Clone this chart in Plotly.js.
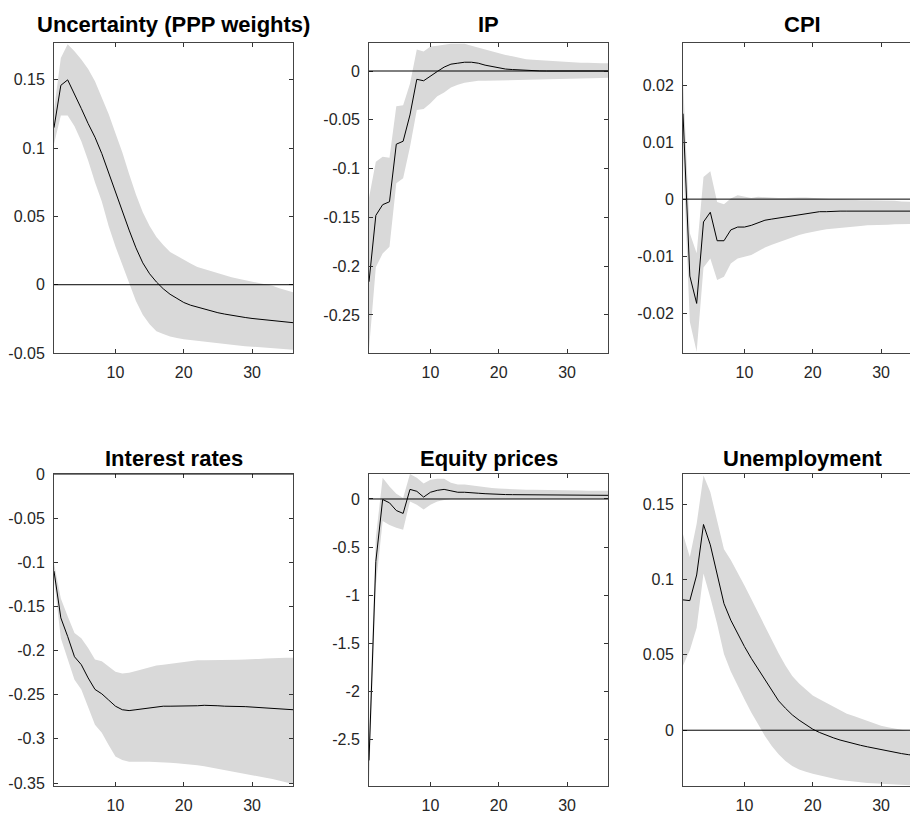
<!DOCTYPE html>
<html>
<head>
<meta charset="utf-8">
<script src="https://cdn.plot.ly/plotly-3.0.1.min.js"></script>
<style>
html, body { margin: 0; padding: 0; overflow: hidden; background: #fff; }
#chart { width: 940px; height: 814px; }
</style>
</head>
<body>
<div id="chart"></div>
<script>
const horizons = [1,2,3,4,5,6,7,8,9,10,11,12,13,14,15,16,17,18,19,20,21,22,23,24,25,26,27,28,29,30,31,32,33,34,35,36];

const panelTitles = ["Uncertainty (PPP weights)", "IP", "CPI", "Interest rates", "Equity prices", "Unemployment"];

// Uncertainty (PPP weights)
const uncMean = [0.115,0.146,0.150,0.140,0.129,0.118,0.108,0.096,0.082,0.067,0.054,0.040,0.027,0.016,0.008,0.002,-0.003,-0.007,-0.010,-0.013,-0.015,-0.0165,-0.018,-0.019,-0.0205,-0.0215,-0.0225,-0.0233,-0.024,-0.0247,-0.0253,-0.0258,-0.0263,-0.0268,-0.0273,-0.0278];
const uncHigh = [0.128,0.166,0.176,0.171,0.165,0.158,0.149,0.137,0.125,0.111,0.097,0.081,0.066,0.053,0.043,0.035,0.029,0.024,0.021,0.018,0.0155,0.013,0.0115,0.010,0.008,0.0068,0.0055,0.0043,0.0032,0.0022,0.0012,0.0002,-0.0008,-0.0025,-0.004,-0.0055];
const uncLow  = [0.103,0.124,0.124,0.116,0.105,0.091,0.075,0.061,0.043,0.028,0.014,0.001,-0.012,-0.022,-0.029,-0.034,-0.036,-0.038,-0.039,-0.040,-0.041,-0.0415,-0.042,-0.0425,-0.043,-0.0435,-0.044,-0.0445,-0.045,-0.0455,-0.046,-0.0463,-0.0466,-0.047,-0.0473,-0.0476];

// IP
const ipMean = [-0.216,-0.148,-0.137,-0.134,-0.075,-0.072,-0.045,-0.0085,-0.010,-0.005,-0.0005,0.004,0.007,0.008,0.009,0.009,0.008,0.006,0.0045,0.003,0.002,0.0015,0.001,0.0005,0.0002,0.0001,0,0,0,0,0,0,0,0,0,0];
const ipHigh = [-0.130,-0.093,-0.088,-0.089,-0.036,-0.035,-0.013,0.022,0.020,0.025,0.026,0.027,0.028,0.028,0.028,0.026,0.024,0.022,0.020,0.018,0.0165,0.015,0.0135,0.012,0.0115,0.011,0.0105,0.010,0.0095,0.009,0.009,0.0085,0.0085,0.008,0.008,0.008];
const ipLow  = [-0.285,-0.201,-0.187,-0.180,-0.115,-0.110,-0.078,-0.040,-0.039,-0.033,-0.026,-0.022,-0.017,-0.014,-0.012,-0.011,-0.010,-0.010,-0.010,-0.010,-0.010,-0.0098,-0.0096,-0.0094,-0.0092,-0.009,-0.0088,-0.0086,-0.0084,-0.0082,-0.008,-0.0078,-0.0076,-0.0074,-0.0072,-0.007];

// CPI
const cpiMean = [0.015,-0.0135,-0.0183,-0.004,-0.0023,-0.0073,-0.0073,-0.0054,-0.0049,-0.0049,-0.0046,-0.0042,-0.0037,-0.0035,-0.0033,-0.0031,-0.0029,-0.0027,-0.0025,-0.0023,-0.0022,-0.0022,-0.0021,-0.0021,-0.0021,-0.0021,-0.0021,-0.0021,-0.0021,-0.0021,-0.0021,-0.0021,-0.0021,-0.0021,-0.0021,-0.0021];
const cpiHigh = [0.021,-0.006,-0.0095,0.0039,0.0049,-0.0005,-0.0009,0.0001,0.0007,0.0004,0.0002,0.0004,0.0003,0.0003,0.0002,0.0002,0.0003,0.0003,0.0003,0.0002,0.0002,0.0001,0,0,-0.0001,-0.0001,-0.0002,-0.0002,-0.0002,-0.0003,-0.0003,-0.0003,-0.0004,-0.0004,-0.0004,-0.0005];
const cpiLow  = [0.008,-0.0215,-0.0268,-0.012,-0.0104,-0.0142,-0.0136,-0.0113,-0.0104,-0.0101,-0.0098,-0.0092,-0.0085,-0.0080,-0.0075,-0.0071,-0.0067,-0.0063,-0.0060,-0.0057,-0.0055,-0.0053,-0.0051,-0.0050,-0.0049,-0.0048,-0.0047,-0.0046,-0.0046,-0.0045,-0.0045,-0.0044,-0.0044,-0.0044,-0.0043,-0.0043];

// Interest rates
const irMean = [-0.110,-0.163,-0.184,-0.207,-0.216,-0.231,-0.244,-0.249,-0.256,-0.263,-0.267,-0.268,-0.267,-0.266,-0.265,-0.264,-0.263,-0.263,-0.263,-0.263,-0.2625,-0.2625,-0.262,-0.262,-0.2625,-0.263,-0.263,-0.263,-0.2635,-0.264,-0.2645,-0.265,-0.2655,-0.266,-0.2665,-0.267];
const irHigh = [-0.101,-0.141,-0.161,-0.180,-0.186,-0.197,-0.210,-0.212,-0.218,-0.224,-0.226,-0.225,-0.223,-0.221,-0.219,-0.217,-0.216,-0.215,-0.214,-0.213,-0.212,-0.211,-0.211,-0.211,-0.211,-0.2105,-0.2105,-0.2105,-0.210,-0.210,-0.2095,-0.209,-0.209,-0.2085,-0.208,-0.208];
const irLow  = [-0.118,-0.186,-0.209,-0.233,-0.244,-0.263,-0.284,-0.293,-0.307,-0.320,-0.324,-0.326,-0.326,-0.326,-0.326,-0.326,-0.3265,-0.327,-0.3275,-0.328,-0.329,-0.330,-0.331,-0.332,-0.3335,-0.335,-0.3365,-0.338,-0.3395,-0.341,-0.3425,-0.344,-0.3455,-0.347,-0.349,-0.351];

// Equity prices
const eqMean = [-2.72,-0.65,-0.005,-0.04,-0.12,-0.15,0.10,0.08,0.02,0.07,0.09,0.10,0.085,0.07,0.07,0.068,0.06,0.055,0.05,0.048,0.046,0.045,0.044,0.043,0.042,0.042,0.041,0.041,0.040,0.040,0.039,0.039,0.039,0.038,0.038,0.038];
const eqHigh = [-2.45,-0.40,0.22,0.13,0.055,0.01,0.26,0.22,0.16,0.20,0.21,0.21,0.17,0.15,0.15,0.14,0.13,0.12,0.115,0.11,0.105,0.10,0.10,0.095,0.095,0.093,0.092,0.091,0.09,0.09,0.089,0.088,0.087,0.086,0.085,0.085];
const eqLow  = [-2.95,-0.90,-0.23,-0.27,-0.30,-0.32,-0.025,-0.06,-0.11,-0.06,-0.025,-0.01,0.0,0.002,0.003,0.003,0.003,0.003,0.003,0.003,0.003,0.003,0.003,0.003,0.003,0.003,0.003,0.003,0.003,0.003,0.003,0.003,0.003,0.003,0.003,0.003];

// Unemployment
const unMean = [0.0865,0.086,0.103,0.1365,0.123,0.104,0.084,0.073,0.064,0.0555,0.0477,0.0406,0.034,0.026,0.0195,0.0146,0.0102,0.0067,0.0035,0.0007,-0.0015,-0.0035,-0.005,-0.0065,-0.0078,-0.009,-0.010,-0.011,-0.012,-0.013,-0.014,-0.0148,-0.0155,-0.0162,-0.0168,-0.0174];
const unHigh = [0.130,0.115,0.137,0.169,0.158,0.139,0.120,0.113,0.105,0.096,0.087,0.078,0.069,0.059,0.051,0.043,0.036,0.031,0.027,0.023,0.0205,0.018,0.0155,0.013,0.011,0.0095,0.0078,0.006,0.0045,0.003,0.002,0.001,0.0003,-0.0005,-0.0008,-0.001];
const unLow  = [0.043,0.053,0.068,0.104,0.088,0.0705,0.0506,0.039,0.0295,0.0206,0.0118,0.004,-0.0038,-0.0104,-0.016,-0.0204,-0.0237,-0.026,-0.0275,-0.0288,-0.030,-0.031,-0.032,-0.033,-0.0335,-0.034,-0.0345,-0.035,-0.0353,-0.0355,-0.0358,-0.036,-0.0363,-0.0365,-0.0368,-0.037];

// Tick labels
const xTickVals = [10, 20, 30];
const xTickText = ["10", "20", "30"];
const yTicks = [
  { vals: [-0.05, 0, 0.05, 0.1, 0.15], text: ["-0.05", "0", "0.05", "0.1", "0.15"] },
  { vals: [-0.25, -0.2, -0.15, -0.1, -0.05, 0], text: ["-0.25", "-0.2", "-0.15", "-0.1", "-0.05", "0"] },
  { vals: [-0.02, -0.01, 0, 0.01, 0.02], text: ["-0.02", "-0.01", "0", "0.01", "0.02"] },
  { vals: [-0.35, -0.3, -0.25, -0.2, -0.15, -0.1, -0.05, 0], text: ["-0.35", "-0.3", "-0.25", "-0.2", "-0.15", "-0.1", "-0.05", "0"] },
  { vals: [-2.5, -2, -1.5, -1, -0.5, 0], text: ["-2.5", "-2", "-1.5", "-1", "-0.5", "0"] },
  { vals: [0, 0.05, 0.1, 0.15], text: ["0", "0.05", "0.1", "0.15"] }
];

const series = [
  { mean: uncMean, low: uncLow, high: uncHigh },
  { mean: ipMean, low: ipLow, high: ipHigh },
  { mean: cpiMean, low: cpiLow, high: cpiHigh },
  { mean: irMean, low: irLow, high: irHigh },
  { mean: eqMean, low: eqLow, high: eqHigh },
  { mean: unMean, low: unLow, high: unHigh }
];

// layout geometry (pixels)
const W = 940, H = 814;
const colX = [[54, 293], [369, 608], [683, 922]];
const rowY = [[43, 353], [474, 786]];
const yRanges = [[-0.05, 0.177], [-0.289, 0.0287], [-0.027, 0.0274], [-0.3534, 0], [-2.986, 0.26], [-0.037, 0.17]];
const titleY = [25, 458];

const fontFam = "Liberation Sans, Arial, Helvetica, sans-serif";
const traces = [];
const layout = {
  width: W, height: H,
  margin: { l: 0, r: 0, t: 0, b: 0 },
  paper_bgcolor: "#ffffff",
  plot_bgcolor: "#ffffff",
  showlegend: false,
  shapes: [],
  annotations: []
};

for (let i = 0; i < 6; i++) {
  const r = Math.floor(i / 3), c = i % 3;
  const sfx = i === 0 ? "" : String(i + 1);
  const xa = "x" + sfx, ya = "y" + sfx;
  const s = series[i];
  const bandX = horizons.concat(horizons.slice().reverse());
  const bandY = s.high.concat(s.low.slice().reverse());
  traces.push({
    x: bandX, y: bandY, xaxis: xa, yaxis: ya,
    type: "scatter", mode: "lines", fill: "toself",
    fillcolor: "#d9d9d9", line: { width: 0, color: "#d9d9d9" }, hoverinfo: "skip"
  });
  traces.push({
    x: horizons, y: s.mean, xaxis: xa, yaxis: ya,
    type: "scatter", mode: "lines", line: { color: "#000000", width: 1 }
  });
  const axCommon = {
    showline: true, linecolor: "#444444", linewidth: 1, mirror: "ticks",
    ticks: "inside", ticklen: 4, tickcolor: "#333333", tickwidth: 1,
    showgrid: false, zeroline: false, fixedrange: true,
    tickfont: { family: fontFam, size: 16, color: "#262626" }
  };
  layout["xaxis" + sfx] = Object.assign({}, axCommon, {
    domain: [colX[c][0] / W, colX[c][1] / W],
    range: [1, 36], anchor: ya,
    tickmode: "array", tickvals: xTickVals, ticktext: xTickText,
    ticklabelstandoff: 5
  });
  layout["yaxis" + sfx] = Object.assign({}, axCommon, {
    domain: [1 - rowY[r][1] / H, 1 - rowY[r][0] / H],
    range: yRanges[i], anchor: xa,
    tickmode: "array", tickvals: yTicks[i].vals, ticktext: yTicks[i].text,
    ticklabelstandoff: 5
  });
  layout.shapes.push({
    type: "line", xref: xa + " domain", yref: ya,
    x0: 0, x1: 1, y0: 0, y1: 0,
    line: { color: "#000000", width: 1 }, layer: "above"
  });
  layout.annotations.push({
    text: "<b>" + panelTitles[i] + "</b>",
    xref: "paper", yref: "paper",
    x: (colX[c][0] + colX[c][1]) / 2 / W, y: 1 - titleY[r] / H,
    xanchor: "center", yanchor: "middle", showarrow: false,
    font: { family: fontFam, size: 22, color: "#000000" }
  });
}

Plotly.newPlot("chart", traces, layout, { displayModeBar: false, staticPlot: true });
</script>
</body>
</html>
